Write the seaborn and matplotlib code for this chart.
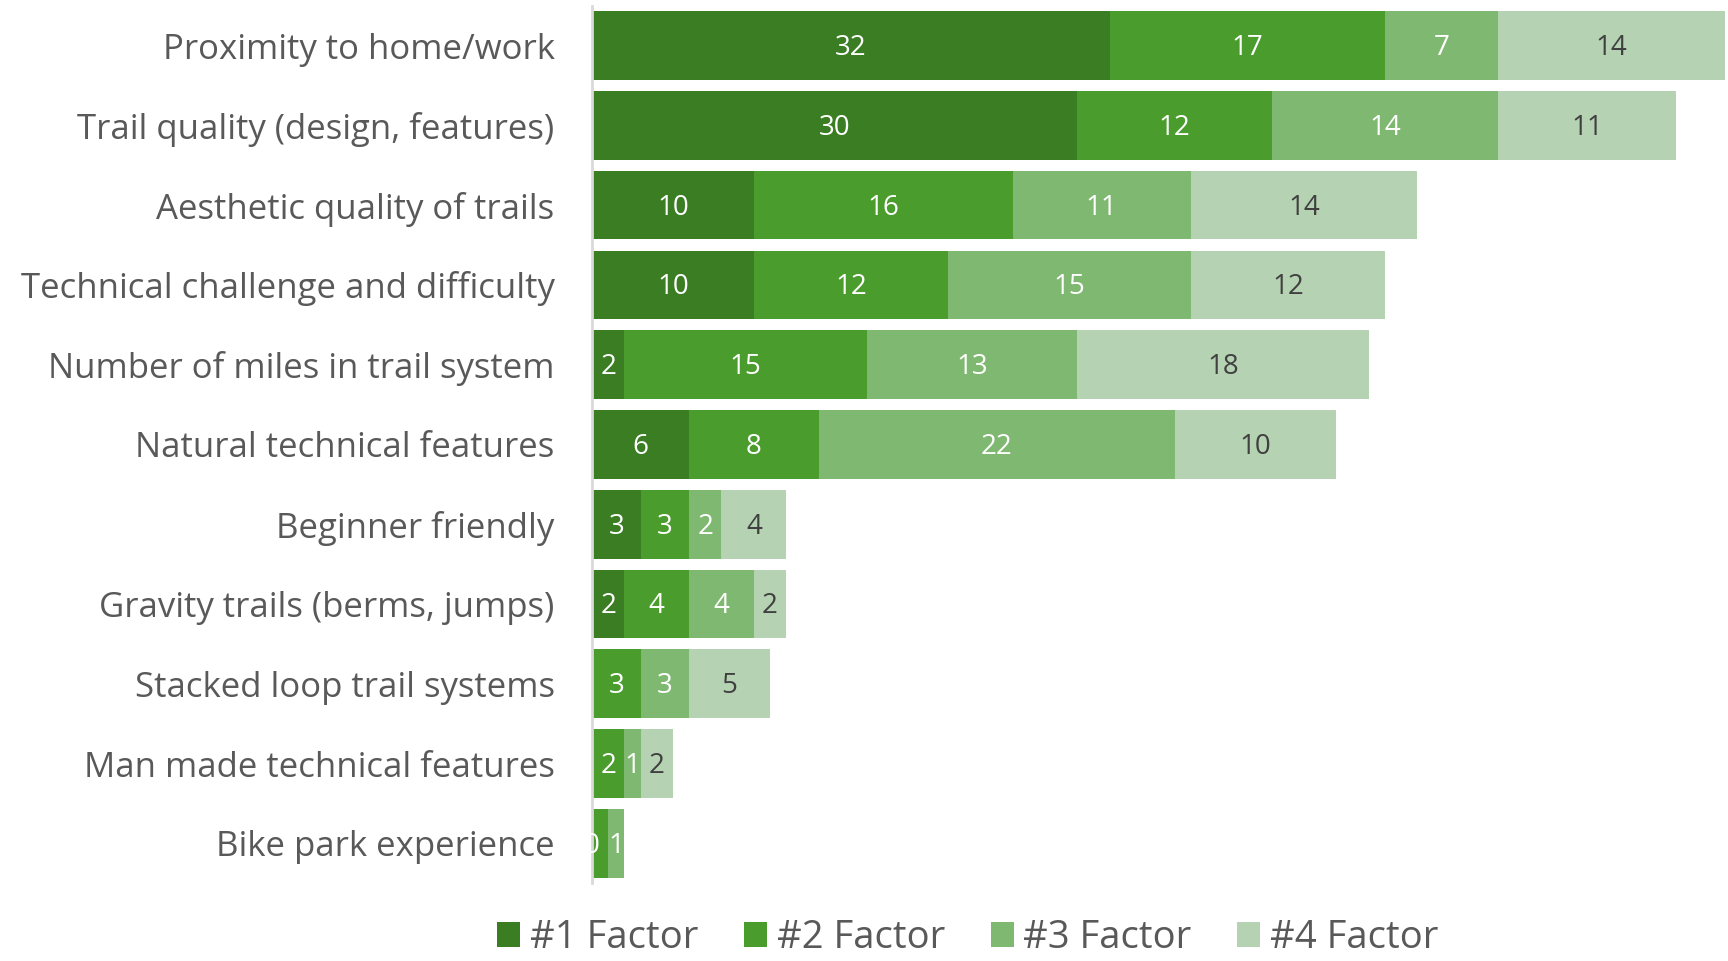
import numpy as np
import pandas as pd
import matplotlib
matplotlib.use("Agg")
import matplotlib.pyplot as plt
import seaborn as sns
from matplotlib.patches import Patch

categories = [
    "Proximity to home/work",
    "Trail quality (design, features)",
    "Aesthetic quality of trails",
    "Technical challenge and difficulty",
    "Number of miles in trail system",
    "Natural technical features",
    "Beginner friendly",
    "Gravity trails (berms, jumps)",
    "Stacked loop trail systems",
    "Man made technical features",
    "Bike park experience",
]
factor1 = [32, 30, 10, 10, 2, 6, 3, 2, np.nan, np.nan, 0]
factor2 = [17, 12, 16, 12, 15, 8, 3, 4, 3, 2, 1]
factor3 = [7, 14, 11, 15, 13, 22, 2, 4, 3, 1, 1]
factor4 = [14, 11, 14, 12, 18, 10, 4, 2, 5, 2, np.nan]
series_names = ["#1 Factor", "#2 Factor", "#3 Factor", "#4 Factor"]
colors = ["#3A7D22", "#4A9C2D", "#7FB870", "#B5D3B2"]
label_colors = ["white", "white", "white", "#404040"]

sns.set_theme(style="white")
plt.rcParams["font.family"] = ["Open Sans", "DejaVu Sans"]

series = [factor1, factor2, factor3, factor4]
vals = np.array(series, dtype=float)
filled = np.nan_to_num(vals)
cum = np.cumsum(filled, axis=0)

fig = plt.figure(figsize=(17.28, 9.61), dpi=100)
ax = fig.add_axes([0.3426, 0.081, 0.6574, 0.913])

# Draw cumulative bars from the outermost series inward
for i in range(3, -1, -1):
    df = pd.DataFrame({"cat": categories, "val": cum[i]})
    sns.barplot(data=df, y="cat", x="val", orient="h", color=colors[i],
                width=0.86, linewidth=0, saturation=1, ax=ax, order=categories)

# Data labels
for r in range(len(categories)):
    last_x = None
    for i in range(4):
        v = vals[i, r]
        if np.isnan(v):
            continue
        start = cum[i, r] - filled[i, r]
        xc = start + v / 2
        if last_x is not None and abs(xc - last_x) < 1.0:
            continue
        ax.text(xc, r + 0.03, f"{int(v)}", ha="center", va="center",
                fontsize=20, color=label_colors[i])
        last_x = xc

ax.set_xlim(0, 70.2)
ax.set_ylim(len(categories) - 0.5, -0.5)
ax.set_xlabel("")
ax.set_ylabel("")
ax.set_xticks([])
ax.tick_params(axis="y", length=0, pad=27, labelsize=25, labelcolor="#595959")
for s in ["top", "right", "bottom"]:
    ax.spines[s].set_visible(False)
ax.spines["left"].set_color("#D9D9D9")
ax.spines["left"].set_linewidth(2)

handles = [Patch(facecolor=c, edgecolor="none", label=n) for c, n in zip(colors, series_names)]
fig.legend(handles=handles, loc="center", bbox_to_anchor=(0.56, 0.024), ncol=4,
           frameon=False, fontsize=27.5, labelcolor="#595959",
           handlelength=0.6, handleheight=0.6, handletextpad=0.25, columnspacing=1.2,
           borderpad=0.1)

fig.savefig("out.png", dpi=100)
